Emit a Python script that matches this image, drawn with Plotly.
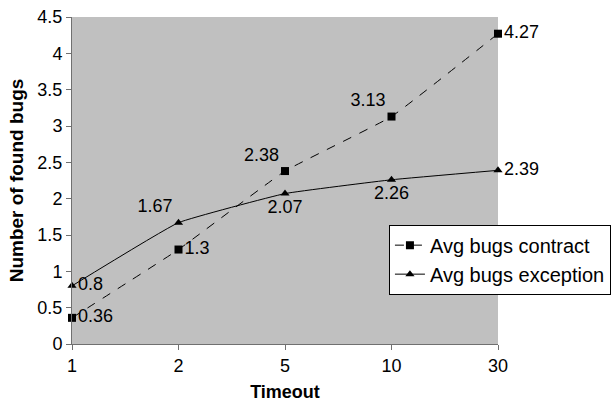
import plotly.graph_objects as go

timeouts = ["1", "2", "5", "10", "30"]
contract = [0.36, 1.3, 2.38, 3.13, 4.27]
exception = [0.8, 1.67, 2.07, 2.26, 2.39]
contract_pos = ["middle right", "middle right", "top left", "top left", "middle right"]
exception_pos = ["middle right", "top left", "bottom center", "bottom center", "middle right"]

FONT = "Arial, Liberation Sans, sans-serif"

fig = go.Figure()
fig.add_trace(go.Scatter(
    x=timeouts, y=contract, name="Avg bugs contract",
    mode="lines+markers+text",
    text=[f"{v:g}" for v in contract], textposition=contract_pos,
    textfont=dict(size=18, color="black", family=FONT),
    line=dict(color="black", width=1, dash="dash", shape="spline", smoothing=0.3),
    marker=dict(symbol="square", size=8, color="black"),
    cliponaxis=False,
))
fig.add_trace(go.Scatter(
    x=timeouts, y=exception, name="Avg bugs exception",
    mode="lines+markers+text",
    text=[f"{v:g}" for v in exception], textposition=exception_pos,
    textfont=dict(size=18, color="black", family=FONT),
    line=dict(color="black", width=1, shape="spline", smoothing=0.3),
    marker=dict(symbol="triangle-up", size=8, color="black"),
    cliponaxis=False,
))

fig.update_layout(
    width=616, height=410,
    margin=dict(l=72, r=118, t=17, b=66, autoexpand=False),
    paper_bgcolor="white", plot_bgcolor="#C0C0C0",
    font=dict(family=FONT, size=18, color="black"),
    showlegend=True,
    legend=dict(
        x=0.744, y=0.365, xanchor="left", yanchor="top",
        bgcolor="white", bordercolor="black", borderwidth=1,
        font=dict(size=20), tracegroupgap=0, itemwidth=30,
    ),
    xaxis=dict(
        type="category", range=[0, 4], automargin=False,
        showgrid=False, zeroline=False,
        showline=True, linecolor="#707070", linewidth=1, mirror=False,
        ticks="outside", ticklen=5, tickcolor="#707070",
        title=dict(text="<b>Timeout</b>", font=dict(size=18), standoff=10),
        tickfont=dict(size=18),
    ),
    yaxis=dict(
        range=[0, 4.5], dtick=0.5, automargin=False,
        showgrid=False, zeroline=False,
        showline=True, linecolor="#707070", linewidth=1,
        ticks="outside", ticklen=5, tickcolor="#707070",
        title=dict(text="<b>Number of found bugs</b>", font=dict(size=19), standoff=8),
        tickfont=dict(size=18),
    ),
)

fig.write_html("out.html")
